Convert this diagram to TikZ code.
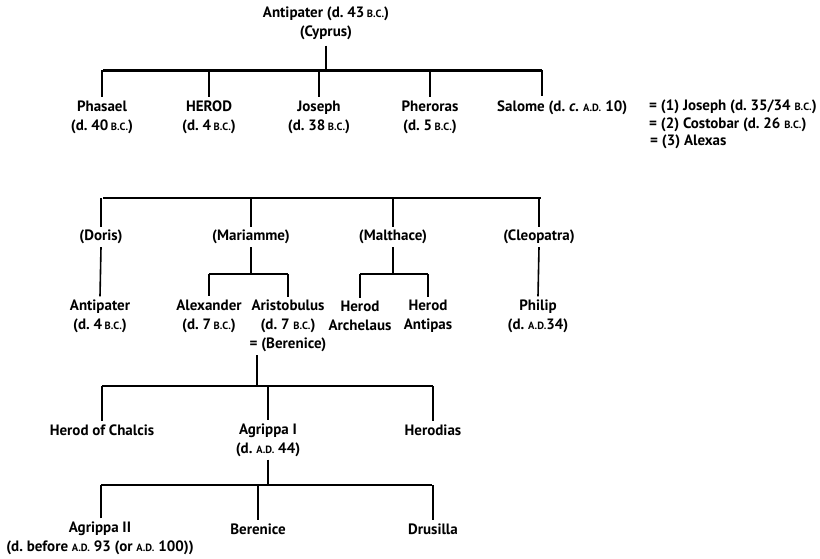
\documentclass[tikz,border=0pt]{standalone}
\usepackage{fontspec}
\setmainfont{PT Sans}
\usetikzlibrary{calc}
\frenchspacing
% small-capital era marks
\newcommand{\eraBC}{{\fontsize{10.5}{9}\selectfont B.C.}}
\newcommand{\eraAD}{{\fontsize{10.5}{9}\selectfont A.D.}}
\begin{document}
\begin{tikzpicture}[x=1pt,y=-1pt,
  person/.style={font=\bfseries\fontsize{15}{19}\selectfont, align=center, inner sep=3pt},
  mainbar/.style={line width=3pt},
  midbar/.style={line width=2.4pt},
  subbar/.style={line width=2pt},
  vline/.style={line width=1.6pt}]
\useasboundingbox (0,0) rectangle (820,558);

% generation of Antipater
\node[person] (antipater) at (326,23) {Antipater (d. 43\,\eraBC)\\(Cyprus)};
\node[person] (phasael)   at (102,117) {Phasael\\(d. 40\,\eraBC)};
\node[person] (herod)     at (209,117) {HEROD\\(d. 4\,\eraBC)};
\node[person] (joseph)    at (319,117) {Joseph\\(d. 38\,\eraBC)};
\node[person] (pheroras)  at (430,117) {Pheroras\\(d. 5\,\eraBC)};
\node[person, anchor=west] (salome) at (494,108)
  {Salome (d.\hspace{4pt}\textit{c.}\hspace{4pt}\eraAD\hspace{4pt}10)};
\node[person, anchor=north west, align=left, font=\bfseries\fontsize{15}{17.5}\selectfont]
  (husbands) at (646,97) {= (1) Joseph (d. 35/34 \eraBC)\\= (2) Costobar (d. 26 \eraBC)\\\hspace{1pt}= (3) Alexas};

\coordinate (barAL) at (103,70);
\coordinate (barAR) at (542,70);
\coordinate (salomedrop) at (542,96);
\draw[mainbar] (barAL) -- (barAR);
\draw[vline] ([yshift=-3pt]antipater.south) -- (antipater.south |- barAL);
\foreach \c in {phasael,herod,joseph,pheroras}
  \draw[vline] (\c.north |- barAL) -- (\c.north);
\draw[vline] (salomedrop |- barAL) -- (salomedrop);

% Herod's wives
\node[person] (doris)     at (101,237) {(Doris)};
\node[person] (mariamme)  at (251,237) {(Mariamme)};
\node[person] (malthace)  at (393,237) {(Malthace)};
\node[person] (cleopatra) at (539,237) {(Cleopatra)};

\coordinate (barBL) at (103,198);
\coordinate (barBR) at (541,198);
\draw[midbar] (barBL) -- (barBR);
\foreach \c in {doris,mariamme,malthace,cleopatra}
  \draw[vline] (\c.north |- barBL) -- (\c.north);

% Herod's sons
\node[person] (antipaterII) at (100,316) {Antipater\\(d. 4\,\eraBC)};
\node[person] (alexander)   at (209,316) {Alexander\\(d. 7\,\eraBC)};
\node[person] (aristobulus) at (288,326) {Aristobulus\\(d. 7 \eraBC)\\= (Berenice)};
\node[person] (archelaus)   at (360,316) {Herod\\Archelaus};
\node[person] (antipas)     at (428,316) {Herod\\Antipas};
\node[person] (philip)      at (538,316) {Philip\\(d. \eraAD 34)};

\draw[vline] (doris.south) -- (antipaterII.north);
\draw[vline] (cleopatra.south) -- (philip.north);

\coordinate (mariammebar) at (251,274);
\draw[vline] (mariamme.south) -- (mariammebar);
\draw[subbar] (alexander.north |- mariammebar) -- (aristobulus.north |- mariammebar);
\draw[vline] (alexander.north |- mariammebar) -- (alexander.north);
\draw[vline] (aristobulus.north |- mariammebar) -- (aristobulus.north);

\coordinate (malthacebar) at (393,274);
\draw[vline] (malthace.south) -- (malthacebar);
\draw[subbar] (archelaus.north |- malthacebar) -- (antipas.north |- malthacebar);
\draw[vline] (archelaus.north |- malthacebar) -- (archelaus.north);
\draw[vline] (antipas.north |- malthacebar) -- (antipas.north);

% children of Aristobulus
\node[person] (chalcis)  at (102,430) {Herod of Chalcis};
\node[person] (agrippaI) at (268,440) {Agrippa I\\(d. \eraAD{} 44)};
\node[person] (herodias) at (433,430) {Herodias};

\coordinate (aristodrop) at (257,386);
\coordinate (barCL) at (102,386);
\coordinate (barCR) at (433,386);
\draw[vline] (aristodrop |- aristobulus.south) -- (aristodrop);
\draw[subbar] (barCL) -- (barCR);
\foreach \c in {chalcis,agrippaI,herodias}
  \draw[vline] (\c.north |- barCL) -- (\c.north);

% children of Agrippa I
\node[person] (agrippaII) at (100,538) {Agrippa II\\(d. before \eraAD{} 93 (or \eraAD{} 100))};
\node[person] (berenice)  at (258,529) {Berenice};
\node[person] (drusilla)  at (433,529) {Drusilla};

\coordinate (barDL) at (101,485);
\coordinate (barDR) at (432,485);
\draw[vline] (agrippaI.south) -- (agrippaI.south |- barDL);
\draw[subbar] (barDL) -- (barDR);
\draw[vline] (agrippaII.north -| barDL) -- (barDL);
\draw[vline] (berenice.north |- barDL) -- (berenice.north);
\draw[vline] (drusilla.north |- barDL) -- (drusilla.north);
\end{tikzpicture}
\end{document}
